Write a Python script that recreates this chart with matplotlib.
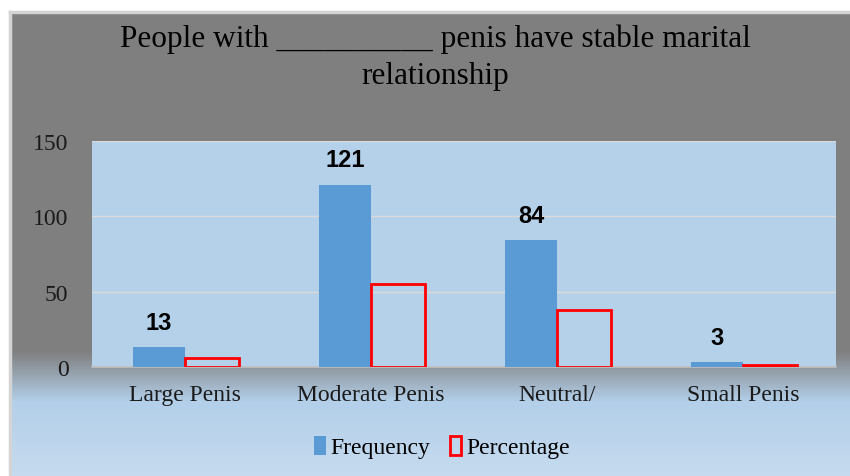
import numpy as np
import matplotlib
matplotlib.use("Agg")
import matplotlib.pyplot as plt
from matplotlib.colors import to_rgb

categories = ["Large Penis", "Moderate Penis", "Neutral/", "Small Penis"]
frequency = [13, 121, 84, 3]
percentage = [5.9, 54.8, 38.0, 1.4]
yticks = [0, 50, 100, 150]
title = "People with __________ penis have stable marital\nrelationship"

W, H = 850, 477
fig = plt.figure(figsize=(W / 100, H / 100), dpi=100)
fig.patch.set_facecolor("white")

# outer frame with gradient
fl, ft = 10, 13
bg = fig.add_axes([fl / W, 0, (W - fl) / W, (H - ft) / H])
bg.set_axis_off()
n = H - ft
rows = np.zeros((n, 1, 3))
gray = np.array(to_rgb("#7f7f7f"))
blue = np.array(to_rgb("#b3cfe9"))
light = np.array(to_rgb("#c6dbef"))
for i in range(n):
    y = ft + i
    if y < 352:
        c = gray
    elif y < 402:
        t = (y - 352) / 50
        c = gray * (1 - t) + blue * t
    else:
        t = (y - 402) / (H - 402)
        c = blue * (1 - t) + light * t
    rows[i, 0] = c
bg.imshow(rows, aspect="auto", extent=[0, 1, 0, 1], interpolation="nearest")
bg.set_xlim(0, 1); bg.set_ylim(0, 1)
fig.add_artist(plt.Line2D([fl / W, fl / W], [0, 1 - ft / H], color="#d4d4d4", lw=2.5, transform=fig.transFigure))
fig.add_artist(plt.Line2D([fl / W, 1], [1 - ft / H, 1 - ft / H], color="#d4d4d4", lw=2.5, transform=fig.transFigure))

# main axes
L, R, T, B = 92, 836, 142, 368
ax = fig.add_axes([L / W, 1 - B / H, (R - L) / W, (B - T) / H])
ax.set_facecolor("#b5d1ea")
x = np.arange(len(categories))
w = 0.28
ax.bar(x - w / 2, frequency, width=w, color="#5b9bd5", label="Frequency", zorder=3)
ax.bar(x + w / 2 + 0.005, percentage, width=0.29, facecolor="none", edgecolor="#ff0000",
       linewidth=2, label="Percentage", zorder=3)
for xi, v in zip(x, frequency):
    ax.annotate(str(v), (xi - w / 2, v), xytext=(0, 10), textcoords="offset points",
                ha="center", va="bottom", fontsize=17, fontweight="bold",
                family="Liberation Sans", color="black")
ax.set_xlim(-0.5, len(categories) - 0.5)
ax.set_ylim(0, 150)
ax.set_yticks(yticks)
ax.yaxis.grid(True, color="#d9d9d9", lw=1)
ax.set_axisbelow(True)
for s in ["left", "right", "top"]:
    ax.spines[s].set_visible(False)
ax.spines["bottom"].set_color("#bfbfbf")
ax.spines["bottom"].set_linewidth(1.2)
ax.tick_params(axis="both", length=0)
ax.tick_params(axis="y", pad=17)
ax.tick_params(axis="x", pad=12)
ax.set_xticks(x)
ax.set_xticklabels(categories)
for lab in ax.get_xticklabels() + ax.get_yticklabels():
    lab.set_family("Liberation Serif")
    lab.set_fontsize(17)
    lab.set_color("#1a1a1a")

fig.text(435 / W, 1 - 58 / H, title, ha="center", va="center", fontsize=22.5,
         family="Liberation Serif", color="black", linespacing=1.35)

leg = fig.legend(loc="center", bbox_to_anchor=(442 / W, 1 - 448 / H), ncol=2, frameon=False,
                 prop={"family": "Liberation Serif", "size": 17}, handlelength=0.5, handleheight=0.9,
                 handletextpad=0.2, columnspacing=0.8)
fig.savefig("out.png", dpi=100)
